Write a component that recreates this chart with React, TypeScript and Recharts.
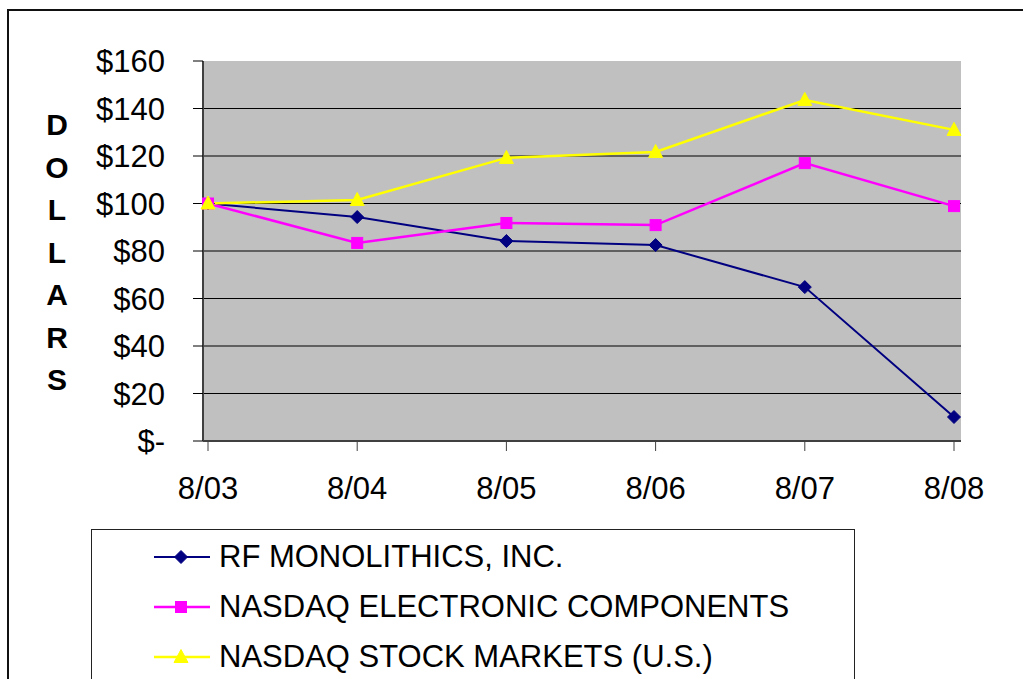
import React from 'react'
import { LineChart, Line, XAxis, YAxis, CartesianGrid } from 'recharts'

const periods = ['8/03', '8/04', '8/05', '8/06', '8/07', '8/08']
const rfMonolithics = [100, 94.3, 84.2, 82.5, 64.8, 10.1]
const nasdaqElectronic = [100, 83.4, 91.8, 90.9, 117, 98.9]
const nasdaqStock = [100, 101.5, 119.2, 121.7, 143.6, 131]
const yTicks = [0, 20, 40, 60, 80, 100, 120, 140, 160]
const gridValues = [20, 40, 60, 80, 100, 120, 140]
const axisLetters = ['D', 'O', 'L', 'L', 'A', 'R', 'S']

const series = [
  { key: 'rf', name: 'RF MONOLITHICS, INC.', color: '#000080', width: 2, shape: 'diamond' },
  { key: 'elec', name: 'NASDAQ ELECTRONIC COMPONENTS', color: '#FF00FF', width: 2.5, shape: 'square' },
  { key: 'stock', name: 'NASDAQ STOCK MARKETS (U.S.)', color: '#FFFF00', width: 2.5, shape: 'triangle' },
]

const data = periods.map((p, i) => ({
  period: p,
  rf: rfMonolithics[i],
  elec: nasdaqElectronic[i],
  stock: nasdaqStock[i],
}))

const FONT = '"Liberation Sans", Arial, sans-serif'

function Marker({ shape, cx, cy, color }: { shape: string; cx: number; cy: number; color: string }) {
  if (shape === 'diamond') {
    const r = 6.5
    return <polygon points={`${cx},${cy - r} ${cx + r},${cy} ${cx},${cy + r} ${cx - r},${cy}`} fill={color} stroke={color} />
  }
  if (shape === 'square') {
    const h = 5.5
    return <rect x={cx - h} y={cy - h} width={h * 2} height={h * 2} fill={color} stroke={color} />
  }
  return (
    <polygon points={`${cx},${cy - 7.5} ${cx + 7},${cy + 5.5} ${cx - 7},${cy + 5.5}`} fill={color} stroke={color} />
  )
}

function makeDot(shape: string, color: string) {
  return (props: any) => (
    <Marker key={`${shape}-${props.index}`} shape={shape} cx={props.cx} cy={props.cy} color={color} />
  )
}

export default function App() {
  return (
    <div style={{ position: 'absolute', left: 0, top: 0, width: 1023, height: 679, overflow: 'hidden', background: '#fff', fontFamily: FONT }}>
      <div style={{ position: 'absolute', left: 7, top: 9, width: 1200, height: 900, border: '2px solid #111', boxSizing: 'border-box' }} />

      <div style={{ position: 'absolute', left: 37, top: 104, width: 40, textAlign: 'center', fontWeight: 'bold', fontSize: 30, lineHeight: '42.5px', color: '#000' }}>
        {axisLetters.map((l, i) => (
          <div key={i}>{l}</div>
        ))}
      </div>

      <div style={{ position: 'absolute', left: 0, top: 0 }}>
        <LineChart width={1023} height={679} data={data} margin={{ top: 61, right: 62, bottom: 178, left: 0 }}>
          <CartesianGrid fill="#C0C0C0" vertical={false} horizontalValues={gridValues} stroke="#000" strokeOpacity={1} />
          <XAxis
            xAxisId="top"
            orientation="top"
            dataKey="period"
            height={0}
            tick={false}
            tickLine={false}
            axisLine={{ stroke: '#808080', strokeWidth: 2 }}
            padding={{ left: 5, right: 7 }}
          />
          <YAxis
            yAxisId="right"
            orientation="right"
            width={0}
            domain={[0, 160]}
            ticks={yTicks}
            tick={false}
            tickLine={false}
            axisLine={{ stroke: '#808080', strokeWidth: 2 }}
          />
          <XAxis
            dataKey="period"
            height={60}
            tickSize={10}
            tickMargin={26}
            padding={{ left: 5, right: 7 }}
            axisLine={{ stroke: '#404040', strokeWidth: 2 }}
            tickLine={{ stroke: '#404040' }}
            tick={{ fill: '#000', fontSize: 31, fontFamily: FONT }}
          />
          <YAxis
            width={203}
            domain={[0, 160]}
            ticks={yTicks}
            interval={0}
            tickSize={10}
            tickMargin={28}
            axisLine={{ stroke: '#404040', strokeWidth: 2 }}
            tickLine={{ stroke: '#000' }}
            tick={{ fill: '#000', fontSize: 31, fontFamily: FONT }}
            tickFormatter={(v: number) => (v === 0 ? '$-' : `$${v}`)}
          />
          {series.map((s) => (
            <Line
              key={s.key}
              dataKey={s.key}
              name={s.name}
              type="linear"
              stroke={s.color}
              strokeWidth={s.width}
              dot={makeDot(s.shape, s.color)}
              activeDot={false}
              isAnimationActive={false}
            />
          ))}
        </LineChart>
      </div>

      <div style={{ position: 'absolute', left: 91, top: 529, width: 764, height: 200, border: '1.5px solid #222', boxSizing: 'border-box', background: '#fff' }}>
        {series.map((s, i) => (
          <div key={s.key} style={{ position: 'absolute', left: 62, top: 5 + i * 50, height: 44, display: 'flex', alignItems: 'center' }}>
            <svg width={56} height={20} style={{ marginRight: 9 }}>
              <line x1={0} y1={10} x2={56} y2={10} stroke={s.color} strokeWidth={s.width} />
              <Marker shape={s.shape} cx={27} cy={10} color={s.color} />
            </svg>
            <span style={{ fontSize: 31, color: '#000', whiteSpace: 'nowrap' }}>{s.name}</span>
          </div>
        ))}
      </div>
    </div>
  )
}
